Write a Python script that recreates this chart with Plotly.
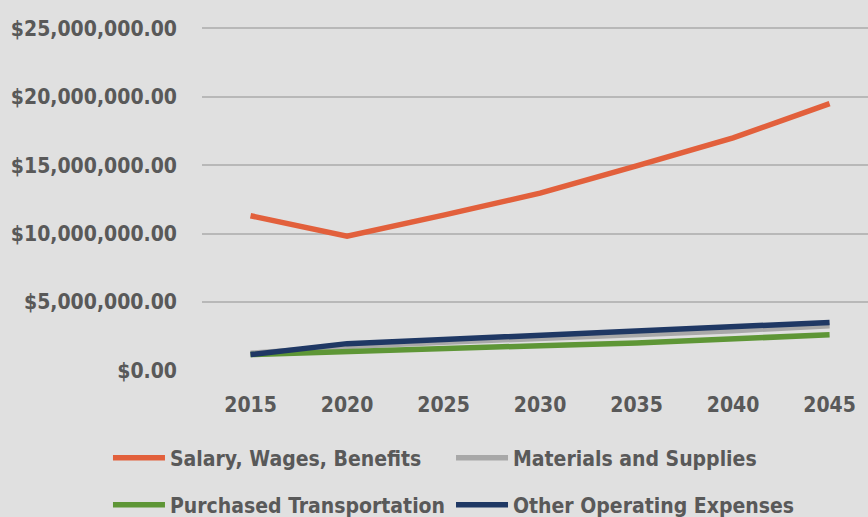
import plotly.graph_objects as go

anos = ['2015', '2020', '2025', '2030', '2035', '2040', '2045']
salarios = [11.3e6, 9.8e6, 11.35e6, 12.95e6, 14.95e6, 17.0e6, 19.5e6]
materiais = [1.25e6, 1.75e6, 2.05e6, 2.3e6, 2.6e6, 2.9e6, 3.25e6]
transporte = [1.15e6, 1.4e6, 1.6e6, 1.8e6, 2.0e6, 2.3e6, 2.6e6]
outras = [1.15e6, 1.95e6, 2.25e6, 2.55e6, 2.85e6, 3.2e6, 3.5e6]

nomes = ['Salary, Wages, Benefits', 'Materials and Supplies',
         'Purchased Transportation', 'Other Operating Expenses']
cores = ['#E2603C', '#A8A8A8', '#5E9636', '#1F3864']
series = [salarios, materiais, transporte, outras]
legendas = ['legend', 'legend2', 'legend3', 'legend4']
# posicao de cada legenda (fracao do container): duas colunas, duas linhas
pos_x = [0.1244, 0.5196, 0.1244, 0.5196]
pos_y = [0.114, 0.114, 0.023, 0.023]

fonte = 'DejaVu Sans Condensed, Liberation Sans Narrow, sans-serif'
cinza = '#595959'

fig = go.Figure()
for nome, cor, valores, leg in zip(nomes, cores, series, legendas):
    fig.add_trace(go.Scatter(x=anos, y=valores, name=nome, mode='lines',
                             legend=leg, line=dict(color=cor, width=5.5)))

layout_legendas = {}
for leg, lx, ly in zip(legendas, pos_x, pos_y):
    layout_legendas[leg] = dict(orientation='h', x=lx, y=ly, xref='container',
                                yref='container', xanchor='left', yanchor='middle',
                                itemwidth=52,
                                font=dict(family=fonte, size=21, color=cinza, weight='bold'),
                                bgcolor='rgba(0,0,0,0)')

fig.update_layout(
    width=868, height=517,
    paper_bgcolor='#e0e0e0', plot_bgcolor='#e0e0e0',
    margin=dict(l=202, r=0, t=27, b=146),
    font=dict(family=fonte, size=20, color=cinza),
    showlegend=True,
    **layout_legendas,
)
fig.update_xaxes(type='category', range=[-0.503, 6.398], showgrid=False, showline=False,
                 ticks='', ticklabelstandoff=19,
                 tickfont=dict(family=fonte, size=21, color=cinza, weight='bold'))
fig.update_yaxes(range=[-0.05e6, 25.1e6], dtick=5e6, tickformat='$,.2f', showgrid=True,
                 gridcolor='#b8b8b8', gridwidth=2, zeroline=False, showline=False,
                 ticks='', ticklabelstandoff=24,
                 tickfont=dict(family=fonte, size=21, color=cinza, weight='bold'))

fig.write_html("out.html", config={'displayModeBar': False},
               post_script="document.body.style.margin='0';")
